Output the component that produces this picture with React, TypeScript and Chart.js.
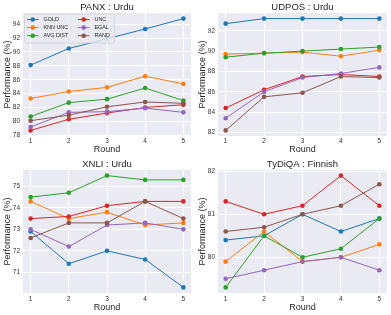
import React, { useEffect, useRef } from 'react';
import { Chart, registerables } from 'chart.js';
Chart.register(...registerables);

const rounds = [1, 2, 3, 4, 5];
const seriesNames = ['GOLD', 'KNN UNC', 'AVG DIST', 'UNC', 'EGAL', 'RAND'];
const seriesColors = ['#1f77b4', '#ff7f0e', '#2ca02c', '#d62728', '#9467bd', '#8c564b'];

// PANX : Urdu
const panxGold = [88.1, 90.5, 91.9, 93.3, 94.8];
const panxKnnUnc = [83.3, 84.3, 84.9, 86.5, 85.4];
const panxAvgDist = [80.7, 82.7, 83.2, 84.8, 83.0];
const panxUnc = [78.7, 80.3, 81.2, 82.0, 82.4];
const panxEgal = [79.2, 81.3, 81.4, 81.9, 81.3];
const panxRand = [80.1, 80.9, 82.1, 82.8, 82.6];
const panxTicks = [78, 80, 82, 84, 86, 88, 90, 92, 94];

// UDPOS : Urdu
const udposGold = [92.7, 93.2, 93.2, 93.2, 93.2];
const udposKnnUnc = [89.7, 89.8, 89.9, 89.5, 90.1];
const udposAvgDist = [89.4, 89.8, 90.0, 90.2, 90.4];
const udposUnc = [84.4, 86.2, 87.5, 87.7, 87.5];
const udposEgal = [83.4, 86.0, 87.4, 87.8, 88.4];
const udposRand = [82.2, 85.5, 85.9, 87.5, 87.4];
const udposTicks = [82, 84, 86, 88, 90, 92];

// XNLI : Urdu
const xnliGold = [72.9, 71.4, 72.0, 71.6, 70.3];
const xnliKnnUnc = [74.3, 73.5, 73.8, 73.2, 73.3];
const xnliAvgDist = [74.5, 74.7, 75.5, 75.3, 75.3];
const xnliUnc = [73.5, 73.6, 74.1, 74.3, 74.3];
const xnliEgal = [73.0, 72.2, 73.2, 73.3, 73.0];
const xnliRand = [72.6, 73.3, 73.3, 74.3, 73.5];
const xnliTicks = [71, 72, 73, 74, 75];

// TyDiQA : Finnish
const tydiGold = [80.4, 80.5, 81.0, 80.6, 80.9];
const tydiKnnUnc = [79.9, 80.6, 79.9, 80.0, 80.3];
const tydiAvgDist = [79.3, 80.5, 80.0, 80.2, 80.9];
const tydiUnc = [81.3, 81.0, 81.2, 81.9, 81.2];
const tydiEgal = [79.5, 79.7, 79.9, 80.0, 79.7];
const tydiRand = [80.6, 80.7, 81.0, 81.2, 81.7];
const tydiTicks = [80, 81, 82];

const FONT = "'Liberation Sans', Arial, sans-serif";
const TEXT = '#262626';

type Panel = {
  title: string;
  series: number[][];
  ticks: number[];
  legend: boolean;
  left: number; top: number; width: number; height: number;
  padTop: number; padRight: number; yWidth: number; xHeight: number;
  xTickPad: number; xTitlePad: number;
};

const panels: Panel[] = [
  { title: 'PANX : Urdu', series: [panxGold, panxKnnUnc, panxAvgDist, panxUnc, panxEgal, panxRand], ticks: panxTicks, legend: true,
    left: 0, top: 0, width: 195, height: 156, padTop: 13, padRight: 3, yWidth: 23, xHeight: 20, xTickPad: 1.5, xTitlePad: 0.6 },
  { title: 'UDPOS : Urdu', series: [udposGold, udposKnnUnc, udposAvgDist, udposUnc, udposEgal, udposRand], ticks: udposTicks, legend: false,
    left: 195, top: 0, width: 196, height: 156, padTop: 13, padRight: 3, yWidth: 23, xHeight: 20, xTickPad: 1.5, xTitlePad: 0.6 },
  { title: 'XNLI : Urdu', series: [xnliGold, xnliKnnUnc, xnliAvgDist, xnliUnc, xnliEgal, xnliRand], ticks: xnliTicks, legend: false,
    left: 0, top: 156, width: 195, height: 159, padTop: 14, padRight: 3, yWidth: 23, xHeight: 22, xTickPad: 2.5, xTitlePad: 1.6 },
  { title: 'TyDiQA : Finnish', series: [tydiGold, tydiKnnUnc, tydiAvgDist, tydiUnc, tydiEgal, tydiRand], ticks: tydiTicks, legend: false,
    left: 195, top: 156, width: 196, height: 159, padTop: 14, padRight: 3, yWidth: 23, xHeight: 22, xTickPad: 2.5, xTitlePad: 1.6 },
];

const bgPlugin = {
  id: 'bg',
  beforeDraw(chart: any) {
    const { ctx, chartArea: a } = chart;
    ctx.save();
    ctx.fillStyle = '#EAEAF2';
    ctx.fillRect(a.left, a.top, a.right - a.left, a.bottom - a.top);
    ctx.restore();
  },
};

const titlePlugin = {
  id: 'ptitle',
  afterDraw(chart: any, _args: any, opts: any) {
    const { ctx, chartArea: a } = chart;
    ctx.save();
    ctx.font = `9.5px ${FONT}`;
    ctx.fillStyle = TEXT;
    ctx.textAlign = 'center';
    ctx.textBaseline = 'middle';
    ctx.fillText(opts.text, (a.left + a.right) / 2, a.top - 6);
    ctx.restore();
  },
};

const legendPlugin = {
  id: 'plegend',
  afterDraw(chart: any, _args: any, opts: any) {
    if (!opts.show) return;
    const { ctx, chartArea: a } = chart;
    const x0 = a.left + 1.5, y0 = a.top + 1, w = 90, h = 29;
    ctx.save();
    ctx.fillStyle = 'rgba(234,234,242,0.85)';
    ctx.strokeStyle = '#d0d0d8';
    ctx.lineWidth = 0.8;
    ctx.beginPath();
    (ctx as any).roundRect(x0, y0, w, h, 2);
    ctx.fill();
    ctx.stroke();
    ctx.font = `5.4px ${FONT}`;
    ctx.textBaseline = 'middle';
    ctx.textAlign = 'left';
    seriesNames.forEach((name, i) => {
      const col = Math.floor(i / 3), row = i % 3;
      const lx = x0 + 2.5 + col * 51;
      const ly = y0 + 5.5 + row * 8.1;
      ctx.strokeStyle = seriesColors[i];
      ctx.lineWidth = 1;
      ctx.beginPath();
      ctx.moveTo(lx, ly);
      ctx.lineTo(lx + 11.5, ly);
      ctx.stroke();
      ctx.fillStyle = seriesColors[i];
      ctx.beginPath();
      ctx.arc(lx + 5.75, ly, 2.3, 0, Math.PI * 2);
      ctx.fill();
      ctx.fillStyle = TEXT;
      ctx.fillText(name, lx + 16.5, ly + 0.3);
    });
    ctx.restore();
  },
};

function PanelChart({ p }: { p: Panel }) {
  const ref = useRef<HTMLCanvasElement>(null);
  useEffect(() => {
    if (!ref.current) return;
    const all = p.series.flat();
    const mn = Math.min(...all), mx = Math.max(...all);
    const m = (mx - mn) * 0.05;
    const chart = new Chart(ref.current, {
      type: 'line',
      data: {
        datasets: p.series.map((s, i) => ({
          label: seriesNames[i],
          data: rounds.map((r, j) => ({ x: r, y: s[j] })),
          borderColor: seriesColors[i],
          backgroundColor: seriesColors[i],
          pointBackgroundColor: seriesColors[i],
          pointBorderWidth: 0,
          pointRadius: 2.3,
          borderWidth: 1,
          tension: 0,
          order: 5 - i,
        })),
      },
      options: {
        animation: false,
        responsive: false,
        devicePixelRatio: 1,
        layout: { padding: { top: p.padTop, right: p.padRight, left: 0, bottom: 0 } },
        plugins: {
          legend: { display: false },
          tooltip: { enabled: false },
          title: { display: false },
          ptitle: { text: p.title },
          plegend: { show: p.legend },
        } as any,
        scales: {
          x: {
            type: 'linear',
            min: 0.8,
            max: 5.2,
            afterBuildTicks: (s: any) => { s.ticks = rounds.map((v) => ({ value: v })); },
            afterFit: (s: any) => { s.height = p.xHeight; },
            grid: { color: '#ffffff', lineWidth: 1, drawTicks: false },
            border: { display: false },
            ticks: { font: { family: FONT, size: 6.5 }, color: '#333333', padding: p.xTickPad, maxRotation: 0 },
            title: { display: true, text: 'Round', font: { family: FONT, size: 9 }, color: TEXT, padding: { top: 0, bottom: p.xTitlePad } },
          },
          y: {
            type: 'linear',
            min: mn - m,
            max: mx + m,
            afterBuildTicks: (s: any) => { s.ticks = p.ticks.map((v) => ({ value: v })); },
            afterFit: (s: any) => { s.width = p.yWidth; },
            grid: { color: '#ffffff', lineWidth: 1, drawTicks: false },
            border: { display: false },
            ticks: { font: { family: FONT, size: 6.5 }, color: '#333333', padding: 3 },
            title: { display: true, text: 'Performance (%)', font: { family: FONT, size: 9 }, color: TEXT, padding: { top: 2.5, bottom: 0 } },
          },
        },
      } as any,
      plugins: [bgPlugin, titlePlugin, legendPlugin],
    });
    return () => chart.destroy();
  }, [p]);
  return (
    <canvas
      ref={ref}
      width={p.width}
      height={p.height}
      style={{ position: 'absolute', left: p.left, top: p.top, width: p.width, height: p.height }}
    />
  );
}

export default function App() {
  return (
    <div style={{ position: 'fixed', left: 0, top: 0, width: 391, height: 315, background: '#ffffff' }}>
      {panels.map((p, i) => (
        <PanelChart key={i} p={p} />
      ))}
    </div>
  );
}
